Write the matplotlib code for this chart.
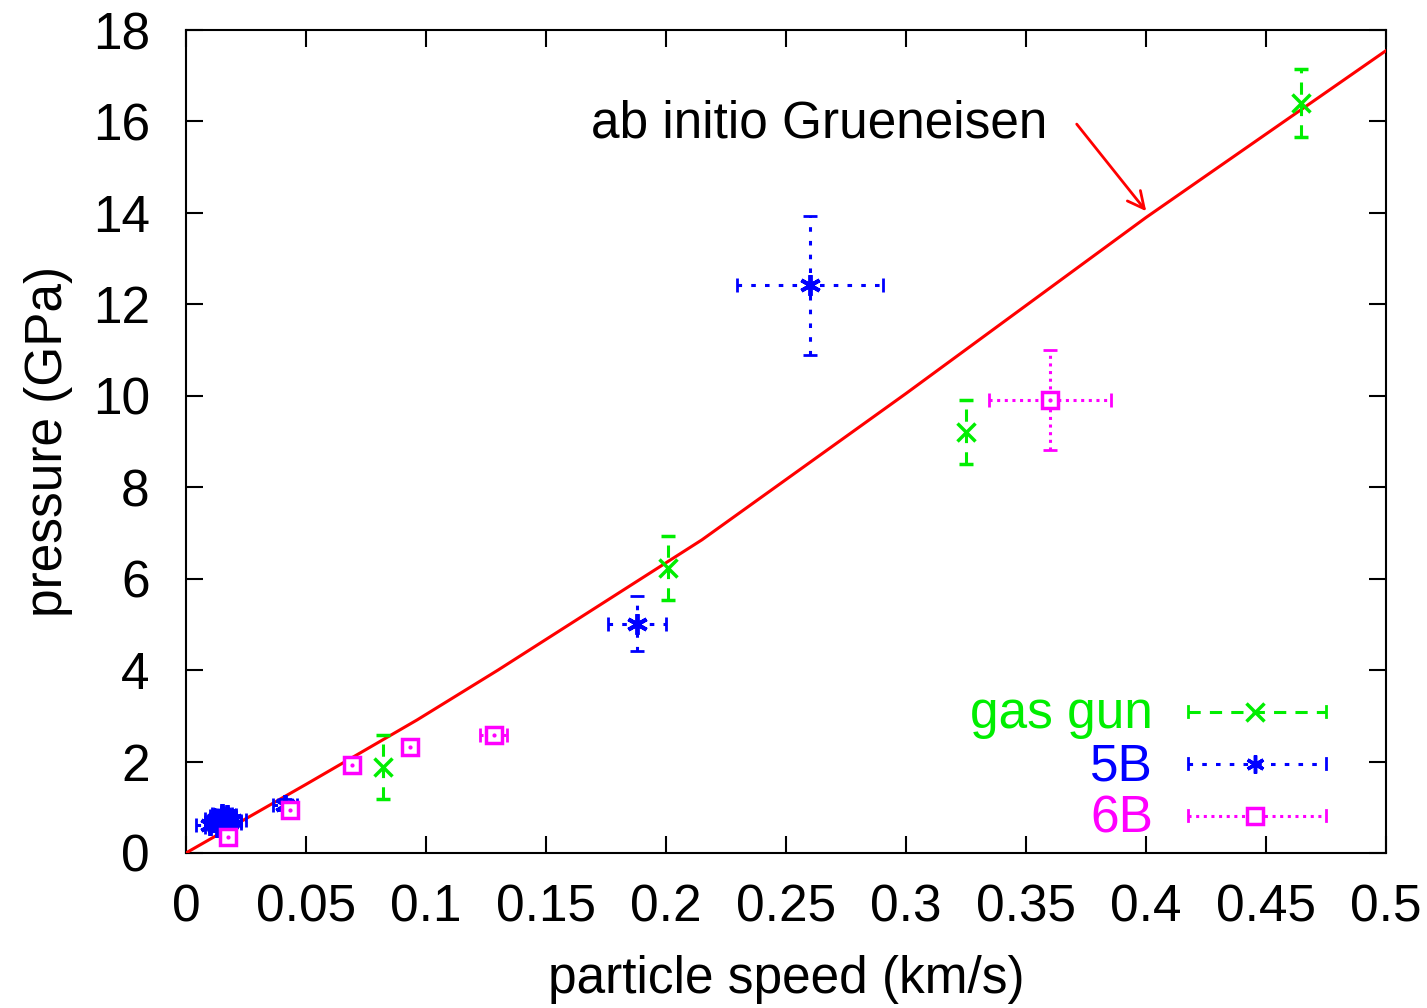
import numpy as np
import matplotlib
matplotlib.use("Agg")
import matplotlib.pyplot as plt

plt.rcParams['font.family'] = ['Liberation Sans', 'DejaVu Sans']

# ab initio Grueneisen curve
curve_x = [0.0, 0.05, 0.0963, 0.13, 0.215, 0.3, 0.4, 0.5]
curve_y = [0.0, 1.5, 2.91, 4.0, 6.85, 10.05, 13.9, 17.55]

# gas gun
gas_x = [0.082, 0.2008, 0.325, 0.4646]
gas_y = [1.88, 6.23, 9.21, 16.40]
gas_yerr = [0.7, 0.7, 0.7, 0.75]

# 5B
b5_x = [0.010, 0.012, 0.013, 0.014, 0.015, 0.016, 0.017, 0.018, 0.019, 0.015, 0.013, 0.017,
        0.0413, 0.188, 0.26]
b5_y = [0.62, 0.68, 0.75, 0.60, 0.80, 0.70, 0.78, 0.65, 0.72, 0.85, 0.57, 0.82,
        1.05, 5.01, 12.42]
b5_xerr = [0.006, 0.004, 0.005, 0.004, 0.005, 0.007, 0.004, 0.005, 0.006, 0.004, 0.005, 0.004,
           0.005, 0.012, 0.0304]
b5_yerr = [0.1, 0.12, 0.1, 0.1, 0.12, 0.1, 0.1, 0.1, 0.12, 0.1, 0.1, 0.12,
           0.12, 0.6, 1.52]

# 6B
b6_x = [0.0175, 0.0433, 0.069, 0.0933, 0.1283, 0.36]
b6_y = [0.35, 0.94, 1.93, 2.32, 2.58, 9.91]
b6_xerr = [0.001, 0.002, 0.001, 0.001, 0.0056, 0.0254]
b6_yerr = [0.05, 0.05, 0.05, 0.05, 0.1, 1.1]

green = '#00ee00'
blue = '#0000ff'
magenta = '#ff00ff'
red = '#ff0000'
fs = 37

fig = plt.figure(figsize=(14.27, 10.08), dpi=100)
ax = fig.add_axes([0.1303, 0.1538, 0.8410, 0.8164])

ax.plot(curve_x, curve_y, color=red, lw=2.2, zorder=3)

eb = ax.errorbar(gas_x, gas_y, yerr=gas_yerr, fmt='x', color=green, ms=13, mew=2.5,
                 elinewidth=2.2, capsize=5, capthick=2, zorder=4)
eb[2][0].set_linestyle((0, (4, 3)))

eb = ax.errorbar(b5_x, b5_y, xerr=b5_xerr, yerr=b5_yerr, fmt='none', ecolor=blue,
                 elinewidth=2.2, capsize=5, capthick=2, zorder=4)
for c in eb[2]:
    c.set_linestyle((0, (1.5, 3)))
ax.plot(b5_x, b5_y, ls='none', marker=(6, 2, 0), ms=15, mew=2.8, color=blue, zorder=5)

eb = ax.errorbar(b6_x, b6_y, xerr=b6_xerr, yerr=b6_yerr, fmt='none', ecolor=magenta,
                 elinewidth=2.2, capsize=5, capthick=2, zorder=4)
for c in eb[2]:
    c.set_linestyle((0, (1, 1.5)))
ax.plot(b6_x, b6_y, ls='none', marker='s', ms=11, mew=2.5, mfc='white', mec=magenta, zorder=5)
ax.plot(b6_x, b6_y, ls='none', marker='.', ms=4, color=magenta, zorder=5)

ax.text(0.359, 15.95, 'ab initio Grueneisen', fontsize=fs, ha='right', va='center')
ax.annotate('', xy=(0.4008, 13.99), xytext=(0.3704, 15.99),
            arrowprops=dict(arrowstyle='->', color=red, lw=2, mutation_scale=30))

# legend drawn by hand
leg = [('gas gun', green, 'x', (0, (4, 3))), ('5B', blue, (6, 2, 0), (0, (1.5, 3))),
       ('6B', magenta, 's', (0, (1, 1.5)))]
leg_y = [0.1717, 0.1085, 0.0453]
for (lab, col, mk, ls), yy in zip(leg, leg_y):
    ax.text(0.806, yy - 0.004, lab, color=col, fontsize=fs, ha='right', va='center',
            transform=ax.transAxes)
    ax.plot([0.835, 0.95], [yy, yy], color=col, lw=2.2, ls=ls, transform=ax.transAxes)
    ax.plot([0.835, 0.835], [yy - 0.007, yy + 0.007], color=col, lw=2, transform=ax.transAxes)
    ax.plot([0.95, 0.95], [yy - 0.007, yy + 0.007], color=col, lw=2, transform=ax.transAxes)
    if mk == 's':
        ax.plot([0.891], [yy], marker='s', ms=11, mew=2.5, mfc='white', mec=col,
                transform=ax.transAxes)
    else:
        ax.plot([0.891], [yy], marker=mk, ms=13, mew=2.5, color=col, transform=ax.transAxes)

ax.set_xlim(0, 0.5)
ax.set_ylim(0, 18)
ax.set_xticks(np.arange(0, 0.51, 0.05))
ax.set_xticklabels(['0', '0.05', '0.1', '0.15', '0.2', '0.25', '0.3', '0.35', '0.4', '0.45', '0.5'])
ax.set_yticks(np.arange(0, 19, 2))
ax.tick_params(direction='in', length=12, width=1.5, labelsize=fs, top=True, right=True)
ax.tick_params(axis='x', pad=22)
ax.tick_params(axis='y', pad=26)
for s in ax.spines.values():
    s.set_linewidth(1.5)

ax.set_xlabel('particle speed (km/s)', fontsize=fs, labelpad=16)
ax.set_ylabel('pressure (GPa)', fontsize=fs, labelpad=14)

fig.savefig('out.png', dpi=100)
